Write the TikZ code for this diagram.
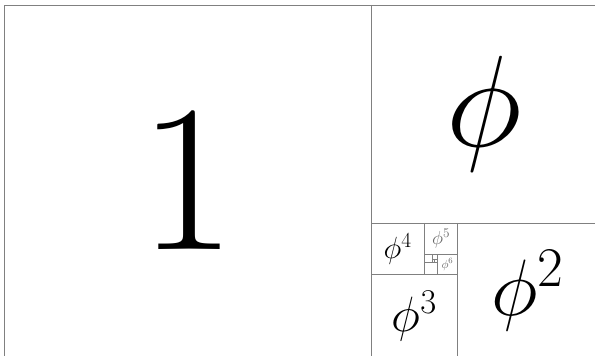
\RequirePackage{fix-cm}
\documentclass[tikz,border=0pt]{standalone}
\usepackage{tikz}

\tikzset{
  sq/.style={draw=black!50, line width=0.8pt},
  lbl/.style={inner sep=0pt, text=black}
}
\newcommand{\gsize}[1]{\fontsize{#1}{#1}\selectfont}

\begin{document}
\begin{tikzpicture}[x=367pt, y=-352.7pt]
\useasboundingbox (-4pt,5pt) rectangle (591pt,-351pt);
% Outer golden rectangle
\draw[sq] (0,0) rectangle (1.618034,1);
% Square divisions (spiral inward)
\draw[sq] (1,0) -- (1,1);
\draw[sq] (1,0.618034) -- (1.618034,0.618034);
\draw[sq] (1.236068,0.618034) -- (1.236068,1);
\draw[sq] (1,0.763932) -- (1.236068,0.763932);
\draw[sq] (1.145898,0.618034) -- (1.145898,0.763932);
\draw[sq] (1.145898,0.708204) -- (1.236068,0.708204);
\draw[sq] (1.180340,0.708204) -- (1.180340,0.763932);
\draw[sq] (1.145898,0.729490) -- (1.180340,0.729490);
\draw[sq] (1.167184,0.708204) -- (1.167184,0.729490);
\draw[sq] (1.167184,0.721360) -- (1.180340,0.721360);
\draw[sq] (1.172209,0.721360) -- (1.172209,0.729490);
% Labels
\node[lbl, font=\gsize{210}] (one) at (0.5,0.5) {$1$};
\node[lbl, font=\gsize{130}] (phi1) at (1.309017,0.309017) {$\phi$};
\node[lbl, font=\gsize{80}] (phi2) at (1.427051,0.809017) {$\phi^2$};
\node[lbl, font=\gsize{49.6}] (phi3) at (1.118034,0.881966) {$\phi^3$};
\node[lbl, font=\gsize{30.6}] (phi4) at (1.072949,0.690983) {$\phi^4$};
\node[lbl, font=\gsize{18.9}, text=black!60] (phi5) at (1.190983,0.663119) {$\phi^5$};
\node[lbl, font=\gsize{11.7}, text=black!60] (phi6) at (1.208204,0.736068) {$\phi^6$};
\end{tikzpicture}
\end{document}
